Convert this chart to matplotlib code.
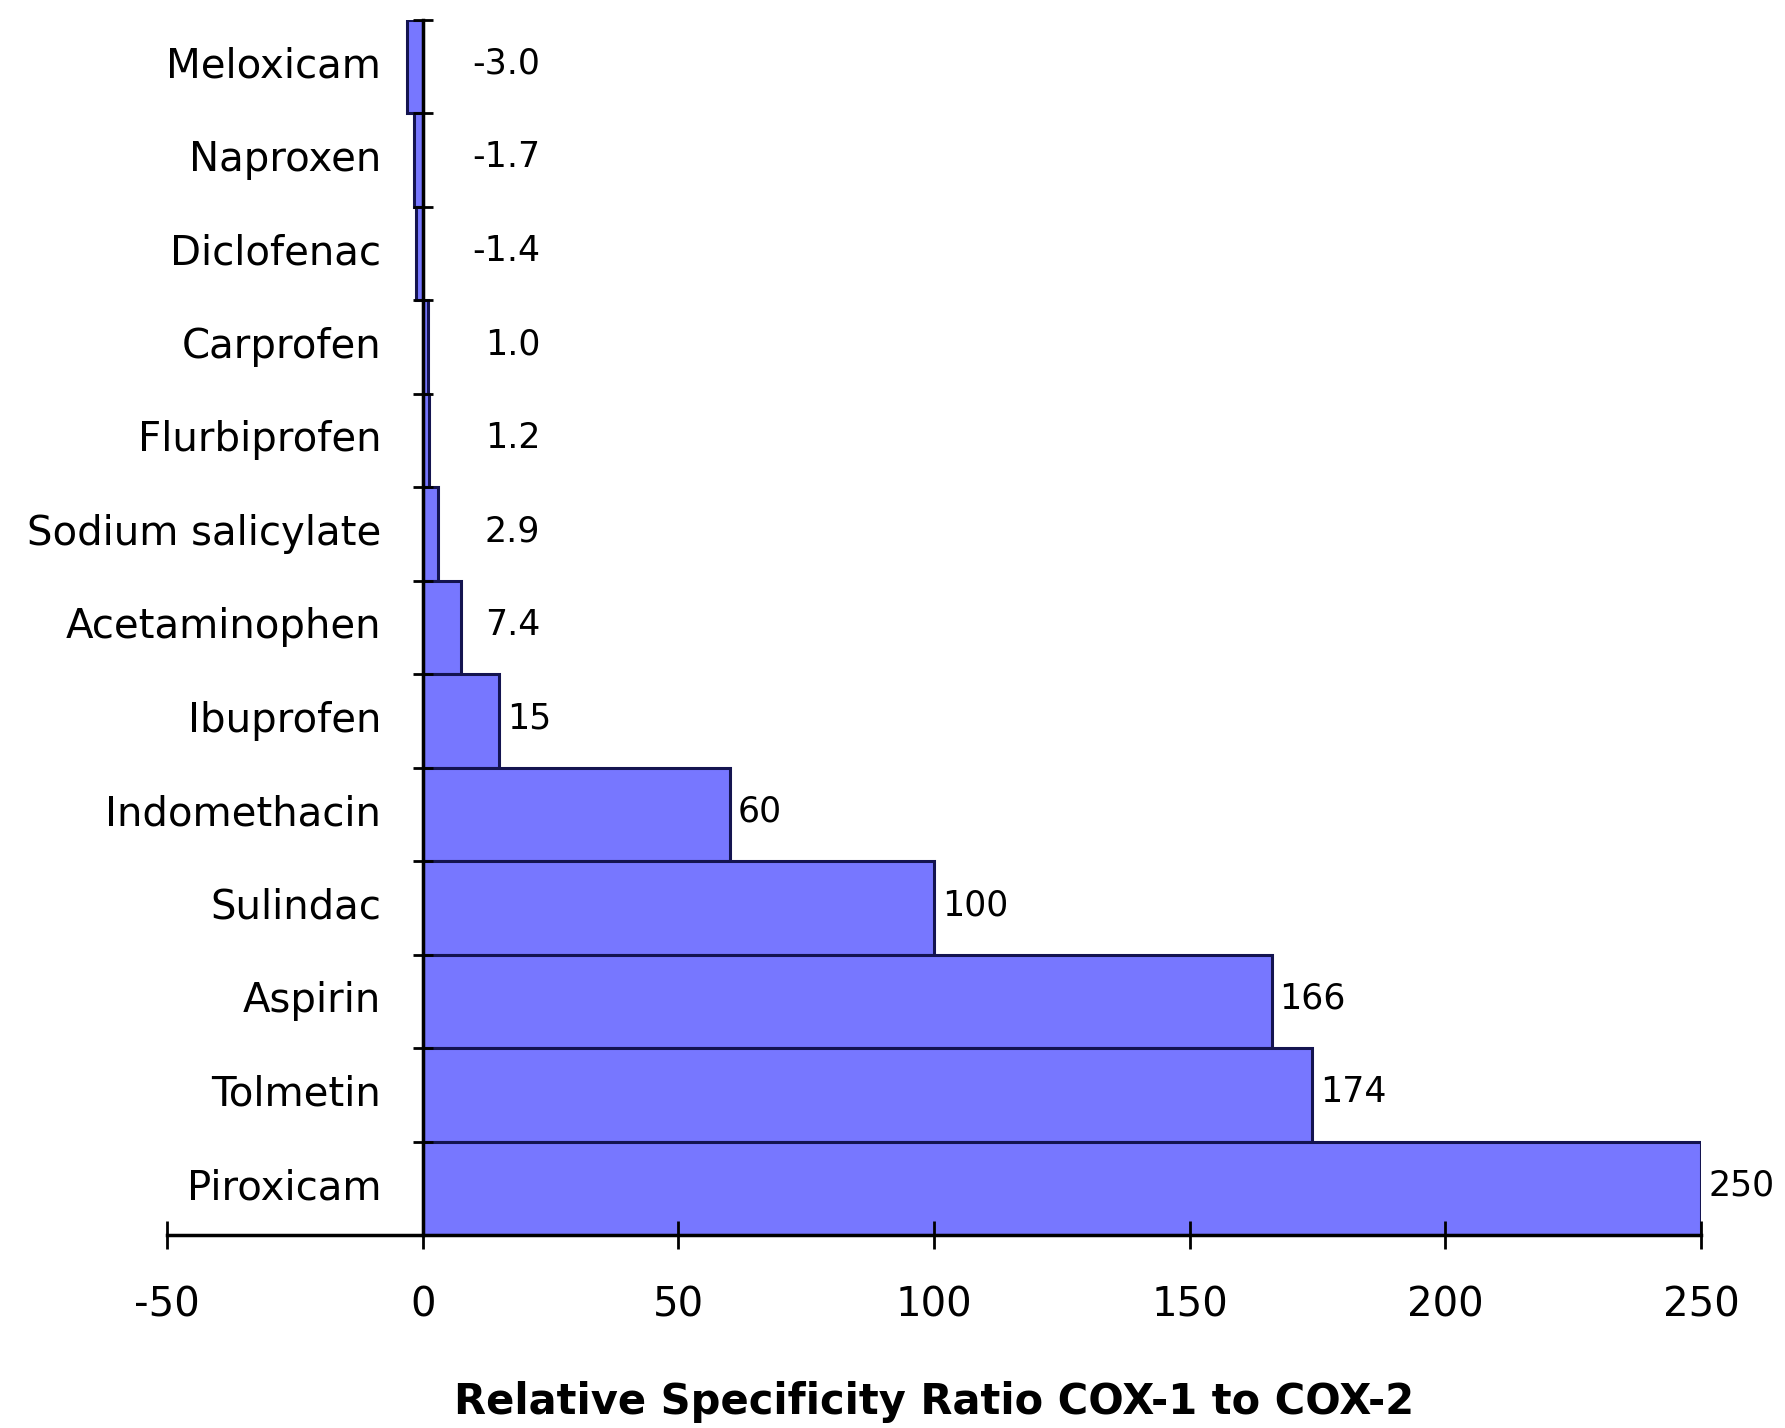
import matplotlib.pyplot as plt
import numpy as np

drugs = [
    "Meloxicam", "Naproxen", "Diclofenac", "Carprofen", "Flurbiprofen",
    "Sodium salicylate", "Acetaminophen", "Ibuprofen", "Indomethacin",
    "Sulindac", "Aspirin", "Tolmetin", "Piroxicam",
]
ratios = [-3.0, -1.7, -1.4, 1.0, 1.2, 2.9, 7.4, 15, 60, 100, 166, 174, 250]
value_labels = ["-3.0", "-1.7", "-1.4", "1.0", "1.2", "2.9", "7.4",
                "15", "60", "100", "166", "174", "250"]
x_ticks = [-50, 0, 50, 100, 150, 200, 250]

plt.rcParams["font.family"] = ["DejaVu Sans"]

fig = plt.figure(figsize=(17.85, 14.28), dpi=100)
ax = fig.add_axes([0.0936, 0.135, 0.953 - 0.0936, 0.986 - 0.135])

n = len(drugs)
ypos = np.arange(n)[::-1]
ax.barh(ypos, ratios, height=1.0, color="#7777ff", edgecolor="#141450",
        linewidth=2.2)

for y, v, lab in zip(ypos, ratios, value_labels):
    if v < 10:
        ax.text(23, y + 0.03, lab, ha="right", va="center", fontsize=25)
    else:
        ax.text(v + 1.5, y + 0.03, lab, ha="left", va="center", fontsize=25)

ax.set_xlim(-50, 250)
ax.set_ylim(-0.5, n - 0.5)

for s in ("top", "right"):
    ax.spines[s].set_visible(False)
ax.spines["left"].set_position(("data", 0))
ax.spines["left"].set_linewidth(2.5)
ax.spines["bottom"].set_linewidth(2.5)

ax.set_yticks(ypos + 0.05)
ax.set_yticklabels(drugs, fontsize=29)
ax.set_yticks(np.arange(n + 1) - 0.5, minor=True)
ax.tick_params(axis="y", which="major", length=0, pad=30)
ax.tick_params(axis="y", which="minor", direction="inout", length=14, width=2)

ax.set_xticks(x_ticks)
ax.set_xticklabels([str(t) for t in x_ticks], fontsize=29)
ax.tick_params(axis="x", direction="inout", length=20, width=2, pad=26)

ax.set_xlabel("Relative Specificity Ratio COX-1 to COX-2", fontsize=30,
              fontweight="bold", labelpad=40)

fig.savefig("out.png", dpi=100, facecolor="white")
